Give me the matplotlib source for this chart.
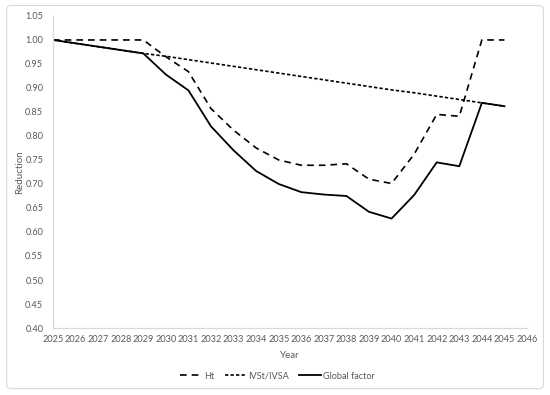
import matplotlib.pyplot as plt
from matplotlib.patches import FancyBboxPatch

years = list(range(2025, 2046))
ht = [1.000, 1.000, 1.000, 1.000, 1.000, 0.965, 0.934, 0.857, 0.812, 0.775,
      0.750, 0.739, 0.739, 0.742, 0.710, 0.701, 0.762, 0.845, 0.841, 1.000, 1.000]
ivst = [1.000, 0.993, 0.986, 0.979, 0.972, 0.966, 0.959, 0.952, 0.945, 0.938,
        0.931, 0.924, 0.917, 0.910, 0.903, 0.896, 0.890, 0.883, 0.876, 0.869, 0.862]
glob = [1.000, 0.993, 0.986, 0.979, 0.972, 0.928, 0.895, 0.820, 0.770, 0.727,
        0.700, 0.683, 0.678, 0.675, 0.642, 0.628, 0.677, 0.745, 0.737, 0.869, 0.862]

plt.rcParams['font.family'] = ['Lato', 'DejaVu Sans']
grey = '#595959'

fig = plt.figure(figsize=(5.5, 3.95), dpi=100)
fig.patches.append(FancyBboxPatch((0.012, 0.016), 0.976, 0.97, boxstyle='round,pad=0,rounding_size=0.01',
                                  transform=fig.transFigure, fill=False, edgecolor='#d9d9d9', lw=0.8))
ax = fig.add_axes([0.0964, 0.1696, 0.8618, 0.79])

ax.plot(years, ht, color='black', lw=1.2, dashes=(4, 3), label='Ht')
ax.plot(years, ivst, color='black', lw=1.2, dashes=(2, 1.3), label='IVSt/IVSA')
ax.plot(years, glob, color='black', lw=1.3, label='Global factor')

ax.set_xlim(2025, 2046)
ax.set_ylim(0.40, 1.05)
ax.set_xticks(range(2025, 2047))
ax.set_yticks([0.40 + 0.05 * i for i in range(14)])
ax.set_yticklabels([f'{0.40 + 0.05 * i:.2f}' for i in range(14)])
ax.tick_params(length=0, labelsize=6.6, colors=grey)
ax.tick_params(axis='y', pad=7)
ax.tick_params(axis='x', pad=5)
for s in ['top', 'right']:
    ax.spines[s].set_visible(False)
for s in ['left', 'bottom']:
    ax.spines[s].set_color('#d9d9d9')
    ax.spines[s].set_linewidth(0.9)

ax.set_xlabel('Year', fontsize=7, color=grey, labelpad=5)
ax.set_ylabel('Reduction', fontsize=7, color=grey, labelpad=0.5)

leg = fig.legend(loc='center', bbox_to_anchor=(0.505, 0.048), ncol=3, frameon=False,
                 fontsize=6.6, handlelength=2.4, columnspacing=1.1, handletextpad=0.2)
for t in leg.get_texts():
    t.set_color(grey)

fig.savefig('out.png', dpi=100)
